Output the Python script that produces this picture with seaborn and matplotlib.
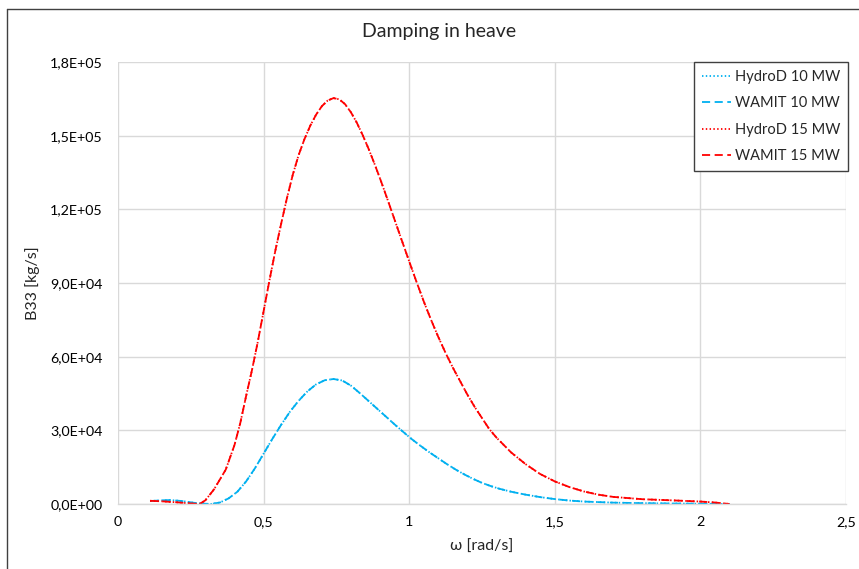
import numpy as np
import pandas as pd
import matplotlib
matplotlib.use("Agg")
import matplotlib.pyplot as plt
from matplotlib.ticker import FuncFormatter, MultipleLocator
from matplotlib.lines import Line2D
import seaborn as sns

# Heave damping B33 [kg/s] versus wave frequency omega [rad/s]
omega_15 = [0.11, 0.15, 0.20, 0.25, 0.28, 0.30, 0.33, 0.37, 0.40, 0.42, 0.44, 0.46,
            0.48, 0.50, 0.52, 0.54, 0.56, 0.58, 0.60, 0.62, 0.64, 0.66, 0.68, 0.70,
            0.72, 0.74, 0.76, 0.78, 0.80, 0.82, 0.84, 0.86, 0.88, 0.90, 0.925, 0.95,
            0.975, 1.00, 1.025, 1.05, 1.075, 1.10, 1.125, 1.15, 1.175, 1.20, 1.225, 1.25,
            1.275, 1.30, 1.35, 1.40, 1.45, 1.50, 1.55, 1.60, 1.65, 1.70, 1.80, 1.90,
            2.00, 2.05, 2.10]
b33_15 = [1.3e3, 1.1e3, 0.7e3, 0.2e3, 0.0, 1.5e3, 6.0e3, 1.4e4, 2.4e4, 3.3e4, 4.4e4, 5.45e4,
          6.6e4, 7.85e4, 9.1e4, 1.03e5, 1.14e5, 1.245e5, 1.34e5, 1.42e5, 1.485e5, 1.54e5, 1.585e5, 1.62e5,
          1.643e5, 1.653e5, 1.648e5, 1.628e5, 1.595e5, 1.553e5, 1.503e5, 1.448e5, 1.388e5, 1.325e5, 1.242e5, 1.157e5,
          1.072e5, 9.88e4, 9.05e4, 8.25e4, 7.5e4, 6.8e4, 6.15e4, 5.55e4, 5.0e4, 4.45e4, 3.95e4, 3.5e4,
          3.05e4, 2.7e4, 2.1e4, 1.62e4, 1.22e4, 9.2e3, 6.9e3, 5.1e3, 3.8e3, 2.9e3, 1.95e3, 1.5e3,
          1.0e3, 0.6e3, 0.0]

omega_10 = [0.11, 0.15, 0.18, 0.22, 0.26, 0.30, 0.32, 0.35, 0.38, 0.41, 0.44, 0.47,
            0.50, 0.53, 0.56, 0.59, 0.62, 0.65, 0.68, 0.71, 0.74, 0.77, 0.80, 0.83,
            0.86, 0.89, 0.92, 0.95, 0.98, 1.01, 1.04, 1.07, 1.10, 1.13, 1.16, 1.19,
            1.22, 1.25, 1.28, 1.31, 1.35, 1.40, 1.45, 1.50, 1.55, 1.60, 1.70, 1.80,
            1.90, 2.00, 2.10]
b33_10 = [1.2e3, 1.5e3, 1.6e3, 1.2e3, 0.5e3, 0.1e3, 0.0, 0.6e3, 2.3e3, 5.0e3, 9.2e3, 1.45e4,
          2.05e4, 2.65e4, 3.22e4, 3.75e4, 4.2e4, 4.58e4, 4.87e4, 5.04e4, 5.09e4, 5.03e4, 4.82e4, 4.52e4,
          4.2e4, 3.88e4, 3.56e4, 3.24e4, 2.93e4, 2.63e4, 2.36e4, 2.1e4, 1.86e4, 1.62e4, 1.4e4, 1.2e4,
          1.02e4, 8.6e3, 7.3e3, 6.2e3, 5.0e3, 3.8e3, 2.8e3, 2.0e3, 1.4e3, 1.0e3, 0.55e3, 0.35e3,
          0.2e3, 0.1e3, 0.0]

series_names = ["HydroD 10 MW", "WAMIT 10 MW", "HydroD 15 MW", "WAMIT 15 MW"]
title = "Damping in heave"
x_label = "\u03c9 [rad/s]"
y_label = "B33 [kg/s]"

# HydroD and WAMIT results coincide, so both codes share the curves above
frames = []
for name in series_names:
    if "10" in name:
        frames.append(pd.DataFrame({"omega": omega_10, "B33": b33_10, "series": name}))
    else:
        frames.append(pd.DataFrame({"omega": omega_15, "B33": b33_15, "series": name}))
df = pd.concat(frames, ignore_index=True)

sns.set_theme(style="white")
plt.rcParams["font.family"] = ["Lato", "DejaVu Sans"]

blue = "#00B0F0"
red = "#FF0000"
palette = {"HydroD 10 MW": blue, "WAMIT 10 MW": blue,
           "HydroD 15 MW": red, "WAMIT 15 MW": red}
dotted = (0.8, 1.3)
dashed = (4.5, 2.5)
dashes = {"HydroD 10 MW": dotted, "WAMIT 10 MW": dashed,
          "HydroD 15 MW": dotted, "WAMIT 15 MW": dashed}

W, H = 859, 569
fig = plt.figure(figsize=(W / 100, H / 100), dpi=100)
ax = fig.add_axes([118 / W, 1 - 504 / H, (846 - 118) / W, (504 - 62) / H])

sns.lineplot(data=df, x="omega", y="B33", hue="series", style="series",
             palette=palette, dashes=dashes, hue_order=series_names,
             style_order=series_names, estimator=None, sort=False,
             linewidth=1.3, ax=ax, legend=False)

ax.set_xlim(0, 2.5)
ax.set_ylim(0, 1.8e5)
ax.xaxis.set_major_locator(MultipleLocator(0.5))
ax.yaxis.set_major_locator(MultipleLocator(3e4))
ax.xaxis.set_major_formatter(FuncFormatter(lambda v, p: f"{v:g}".replace(".", ",")))
ax.yaxis.set_major_formatter(FuncFormatter(lambda v, p: f"{v:.1E}".replace(".", ",")))
ax.grid(True, color="#d9d9d9", linewidth=1.0)
ax.set_axisbelow(True)
for side in ["top", "right", "left"]:
    ax.spines[side].set_visible(False)
ax.spines["bottom"].set_color("#d9d9d9")
ax.spines["bottom"].set_linewidth(1.0)
ax.tick_params(axis="both", length=0, labelsize=10.3, colors="#000000")
ax.tick_params(axis="y", pad=11)
ax.tick_params(axis="x", pad=9)
ax.set_xlabel(x_label, fontsize=11.5, labelpad=8)
ax.set_ylabel(y_label, fontsize=11.5, labelpad=7)

fig.text(439 / W, 1 - 32 / H, title, ha="center", va="center", fontsize=14)

handles = [Line2D([], [], color=palette[n], linestyle=(0, dashes[n]), linewidth=1.3)
           for n in series_names]
leg = ax.legend(handles, series_names, loc="upper right",
                bbox_to_anchor=(848 / W, 1 - 62 / H), bbox_transform=fig.transFigure,
                fontsize=10.5, frameon=True, fancybox=False, framealpha=1,
                edgecolor="#404040", handlelength=2.0, handletextpad=0.25,
                labelspacing=0.85, borderpad=0.55, borderaxespad=0)
leg.get_frame().set_linewidth(1.0)

# outer chart border
fig.add_artist(Line2D([7 / W, 7 / W], [0, 1 - 9 / H], transform=fig.transFigure,
                      color="#404040", linewidth=1.0))
fig.add_artist(Line2D([7 / W, 1], [1 - 9 / H, 1 - 9 / H], transform=fig.transFigure,
                      color="#404040", linewidth=1.0))

fig.savefig("out.png", dpi=100)
